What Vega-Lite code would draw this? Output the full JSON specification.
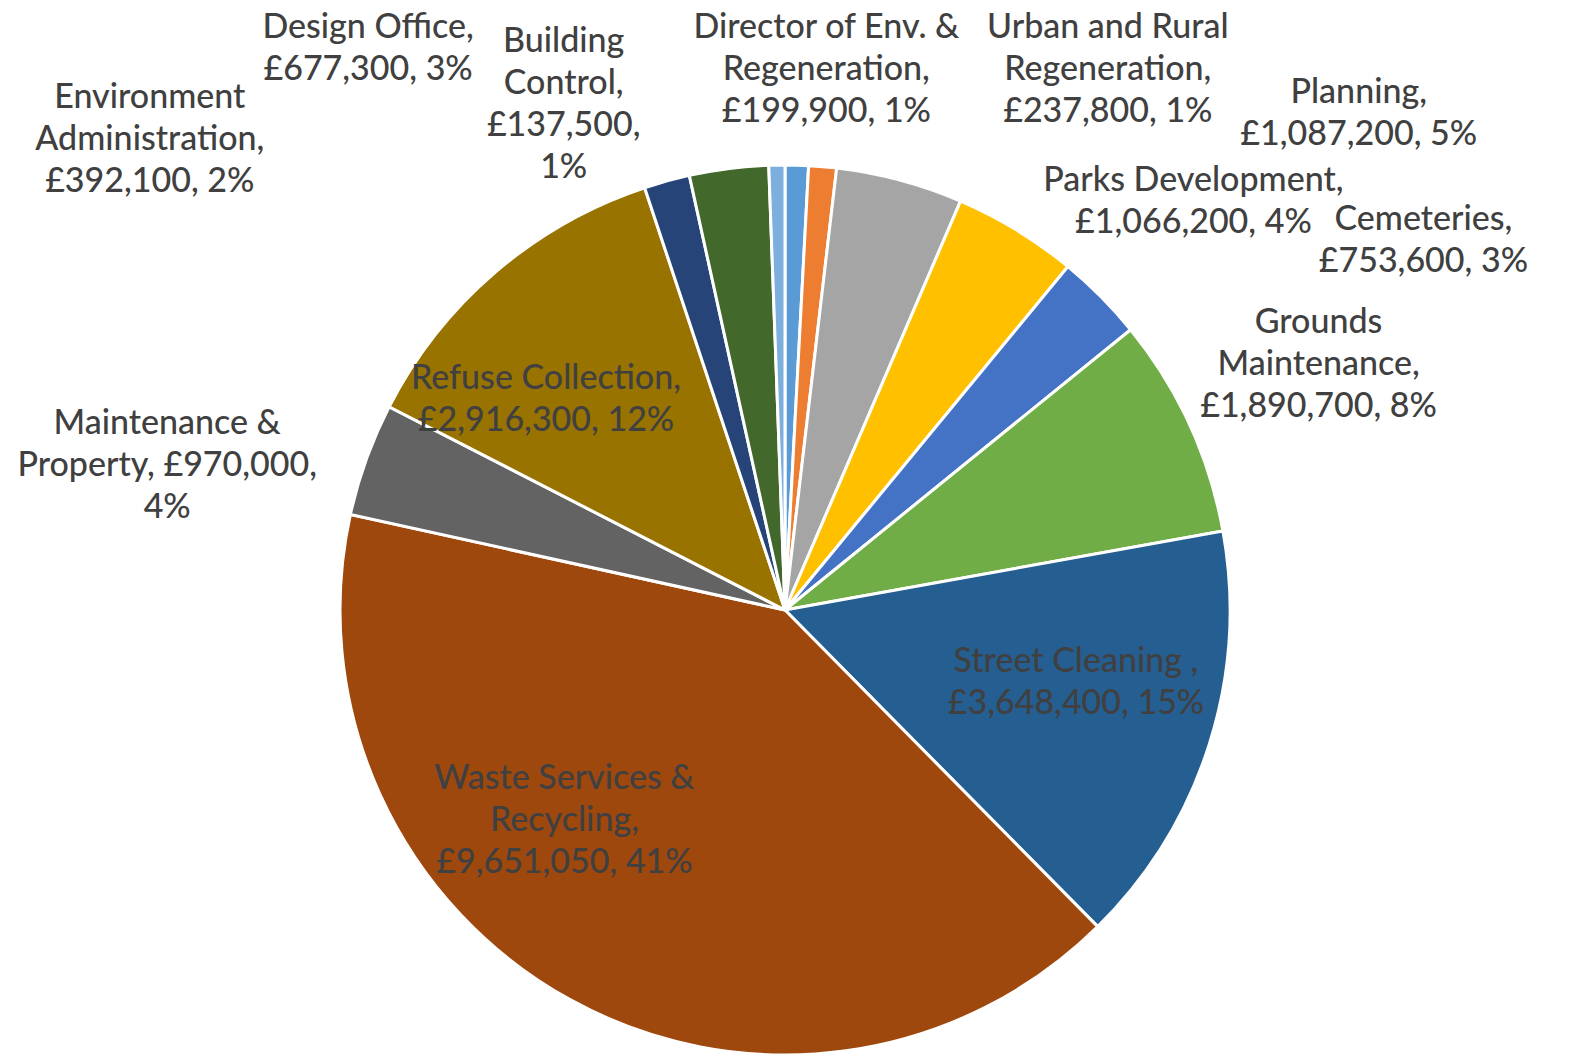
{
  "$schema": "https://vega.github.io/schema/vega-lite/v6.json",
  "autosize": {"type": "none"},
  "width": 1570,
  "height": 892,
  "padding": {"left": 0, "top": 164, "right": 14, "bottom": 0},
  "background": "white",
  "config": {"view": {"stroke": null}},
  "data": {
    "values": [
      {"idx": 1, "name": "Director of Env. & Regeneration", "value": 199900, "label": "Director of Env. &\nRegeneration,\n£199,900, 1%"},
      {"idx": 2, "name": "Urban and Rural Regeneration", "value": 237800, "label": "Urban and Rural\nRegeneration,\n£237,800, 1%"},
      {"idx": 3, "name": "Planning", "value": 1087200, "label": "Planning,\n£1,087,200, 5%"},
      {"idx": 4, "name": "Parks Development", "value": 1066200, "label": "Parks Development,\n£1,066,200, 4%"},
      {"idx": 5, "name": "Cemeteries", "value": 753600, "label": "Cemeteries,\n£753,600, 3%"},
      {"idx": 6, "name": "Grounds Maintenance", "value": 1890700, "label": "Grounds\nMaintenance,\n£1,890,700, 8%"},
      {"idx": 7, "name": "Street Cleaning", "value": 3648400, "label": "Street Cleaning ,\n£3,648,400, 15%"},
      {"idx": 8, "name": "Waste Services & Recycling", "value": 9651050, "label": "Waste Services &\nRecycling,\n£9,651,050, 41%"},
      {"idx": 9, "name": "Maintenance & Property", "value": 970000, "label": "Maintenance &\nProperty, £970,000,\n4%"},
      {"idx": 10, "name": "Refuse Collection", "value": 2916300, "label": "Refuse Collection,\n£2,916,300, 12%"},
      {"idx": 11, "name": "Environment Administration", "value": 392100, "label": "Environment\nAdministration,\n£392,100, 2%"},
      {"idx": 12, "name": "Design Office", "value": 677300, "label": "Design Office,\n£677,300, 3%"},
      {"idx": 13, "name": "Building Control", "value": 137500, "label": "Building\nControl,\n£137,500,\n1%"}
    ]
  },
  "encoding": {
    "theta": {"field": "value", "type": "quantitative", "stack": true},
    "order": {"field": "idx", "type": "quantitative"}
  },
  "layer": [
    {
      "mark": {"type": "arc", "outerRadius": 445, "stroke": "white", "strokeWidth": 3},
      "encoding": {
        "color": {
          "field": "name",
          "type": "nominal",
          "legend": null,
          "scale": {
            "domain": ["Director of Env. & Regeneration", "Urban and Rural Regeneration", "Planning", "Parks Development", "Cemeteries", "Grounds Maintenance", "Street Cleaning", "Waste Services & Recycling", "Maintenance & Property", "Refuse Collection", "Environment Administration", "Design Office", "Building Control"],
            "range": ["#5B9BD5", "#ED7D31", "#A5A5A5", "#FFC000", "#4472C4", "#70AD47", "#255E91", "#9E480E", "#636363", "#997300", "#264478", "#43682B", "#7CAFDD"]
          }
        }
      }
    },
    {
      "mark": {"type": "text", "radius": 540, "dx": 27, "dy": -42, "font": "Lato", "fontSize": 34, "fontWeight": 500, "lineHeight": 42, "lineBreak": "\n", "fill": "#404040"},
      "encoding": {"text": {"condition": {"test": "datum.idx === 1", "field": "label"}, "value": ""}}
    },
    {
      "mark": {"type": "text", "radius": 565, "dx": 275, "dy": -19, "font": "Lato", "fontSize": 34, "fontWeight": 500, "lineHeight": 42, "lineBreak": "\n", "fill": "#404040"},
      "encoding": {"text": {"condition": {"test": "datum.idx === 2", "field": "label"}, "value": ""}}
    },
    {
      "mark": {"type": "text", "radius": 627, "dx": 412, "dy": 89, "font": "Lato", "fontSize": 34, "fontWeight": 500, "lineHeight": 42, "lineBreak": "\n", "fill": "#404040"},
      "encoding": {"text": {"condition": {"test": "datum.idx === 3", "field": "label"}, "value": ""}}
    },
    {
      "mark": {"type": "text", "radius": 560, "dx": 117, "dy": 49, "font": "Lato", "fontSize": 34, "fontWeight": 500, "lineHeight": 42, "lineBreak": "\n", "fill": "#404040"},
      "encoding": {"text": {"condition": {"test": "datum.idx === 4", "field": "label"}, "value": ""}}
    },
    {
      "mark": {"type": "text", "radius": 712, "dx": 133, "dy": 112, "font": "Lato", "fontSize": 34, "fontWeight": 500, "lineHeight": 42, "lineBreak": "\n", "fill": "#404040"},
      "encoding": {"text": {"condition": {"test": "datum.idx === 5", "field": "label"}, "value": ""}}
    },
    {
      "mark": {"type": "text", "radius": 587, "dx": 0, "dy": -42, "font": "Lato", "fontSize": 34, "fontWeight": 500, "lineHeight": 42, "lineBreak": "\n", "fill": "#404040"},
      "encoding": {"text": {"condition": {"test": "datum.idx === 6", "field": "label"}, "value": ""}}
    },
    {
      "mark": {"type": "text", "radius": 322, "dx": -16, "dy": -45, "font": "Lato", "fontSize": 34, "fontWeight": 500, "lineHeight": 42, "lineBreak": "\n", "fill": "#404040"},
      "encoding": {"text": {"condition": {"test": "datum.idx === 7", "field": "label"}, "value": ""}}
    },
    {
      "mark": {"type": "text", "radius": 291, "dx": -80, "dy": -86, "font": "Lato", "fontSize": 34, "fontWeight": 500, "lineHeight": 42, "lineBreak": "\n", "fill": "#404040"},
      "encoding": {"text": {"condition": {"test": "datum.idx === 8", "field": "label"}, "value": ""}}
    },
    {
      "mark": {"type": "text", "radius": 630, "dx": -25, "dy": 27, "font": "Lato", "fontSize": 34, "fontWeight": 500, "lineHeight": 42, "lineBreak": "\n", "fill": "#404040"},
      "encoding": {"text": {"condition": {"test": "datum.idx === 9", "field": "label"}, "value": ""}}
    },
    {
      "mark": {"type": "text", "radius": 315, "dx": -34, "dy": 8, "font": "Lato", "fontSize": 34, "fontWeight": 500, "lineHeight": 42, "lineBreak": "\n", "fill": "#404040"},
      "encoding": {"text": {"condition": {"test": "datum.idx === 10", "field": "label"}, "value": ""}}
    },
    {
      "mark": {"type": "text", "radius": 622, "dx": -470, "dy": 88, "font": "Lato", "fontSize": 34, "fontWeight": 500, "lineHeight": 42, "lineBreak": "\n", "fill": "#404040"},
      "encoding": {"text": {"condition": {"test": "datum.idx === 11", "field": "label"}, "value": ""}}
    },
    {
      "mark": {"type": "text", "radius": 609, "dx": -340, "dy": 22, "font": "Lato", "fontSize": 34, "fontWeight": 500, "lineHeight": 42, "lineBreak": "\n", "fill": "#404040"},
      "encoding": {"text": {"condition": {"test": "datum.idx === 12", "field": "label"}, "value": ""}}
    },
    {
      "mark": {"type": "text", "radius": 509, "dx": -212, "dy": -59, "font": "Lato", "fontSize": 34, "fontWeight": 500, "lineHeight": 42, "lineBreak": "\n", "fill": "#404040"},
      "encoding": {"text": {"condition": {"test": "datum.idx === 13", "field": "label"}, "value": ""}}
    }
  ]
}
